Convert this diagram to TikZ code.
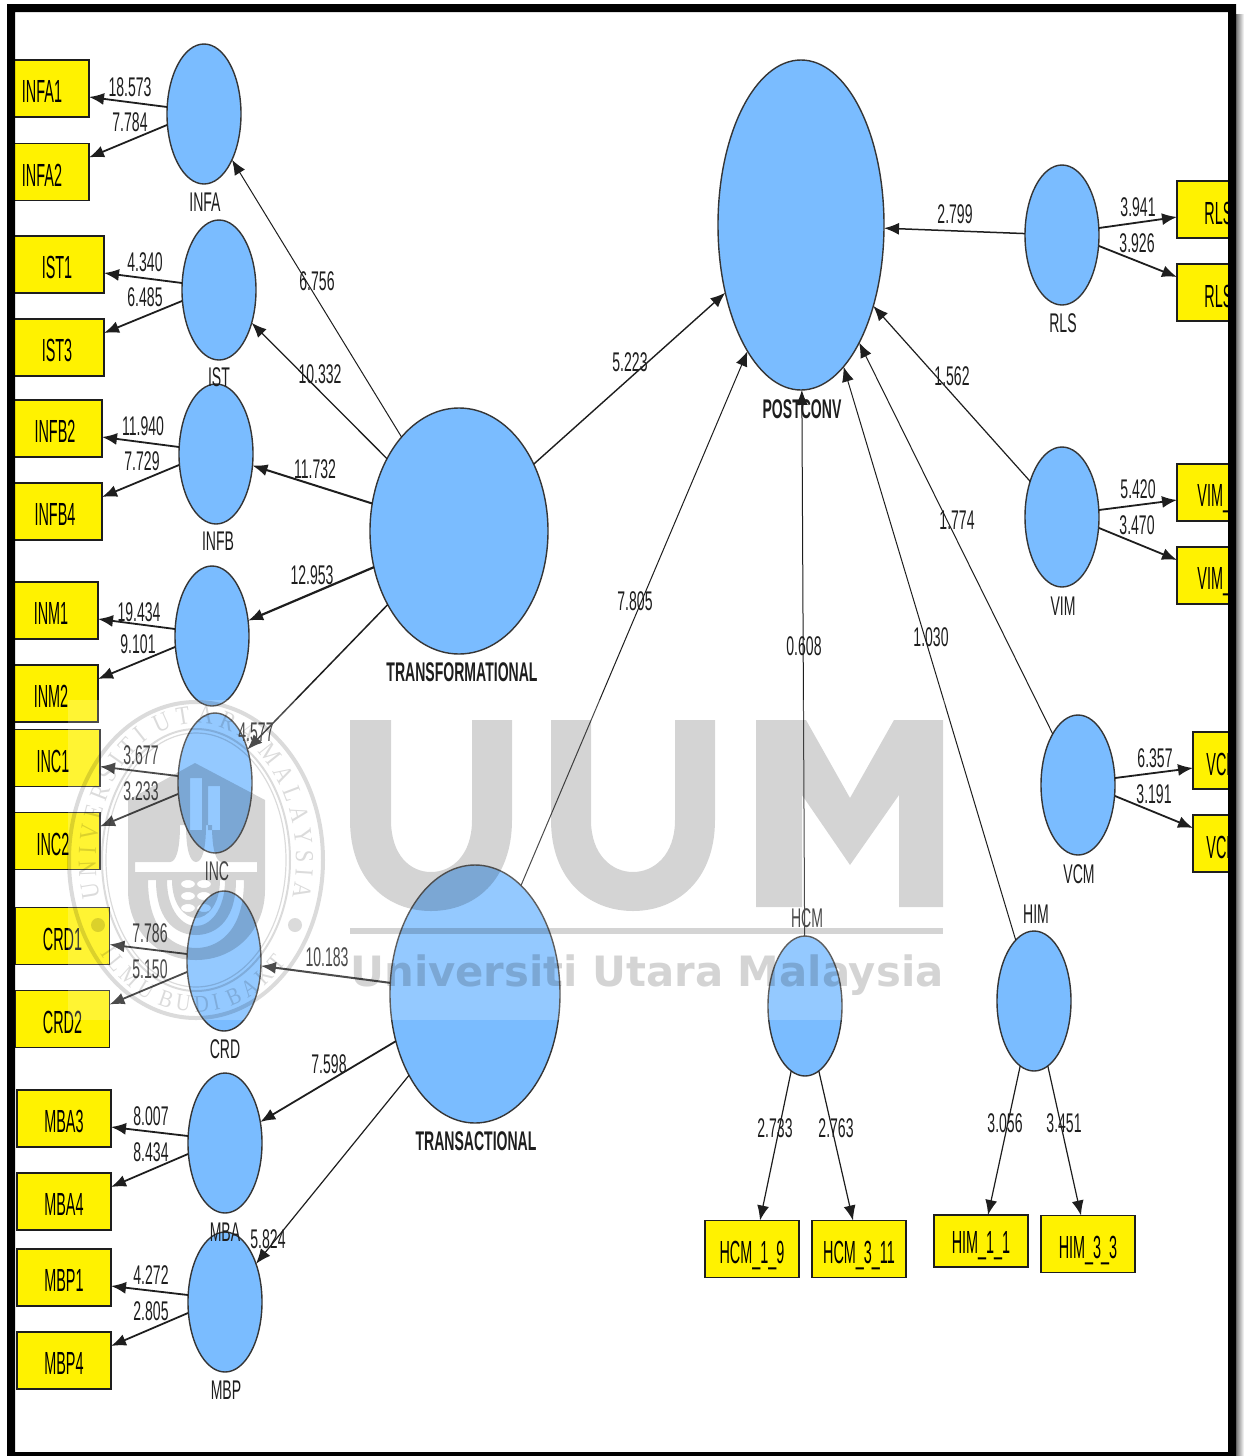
\documentclass[tikz,border=0pt]{standalone}
\usepackage{fontspec}
\usetikzlibrary{arrows.meta,shapes.geometric,decorations.text}
\setmainfont{Liberation Sans}
\newfontfamily\lab[FakeStretch=0.52]{Liberation Sans}
\newfontfamily\boxfont[FakeStretch=0.45]{Liberation Sans}
\newfontfamily\sealfont[FakeStretch=0.85]{Liberation Serif}
\newfontfamily\wmfont{DejaVu Sans}
\definecolor{lvblue}{HTML}{7ABCFF}
\definecolor{inkc}{HTML}{1E1E1E}
\tikzset{
  lv/.style={ellipse,draw=inkc!90,line width=.7pt,fill=lvblue,inner sep=0pt,outer sep=0pt,minimum width=#1},
  lv/.default=37pt,
  small lv/.style={lv,minimum width=37pt,minimum height=70pt},
  ind/.style={rectangle,draw=inkc,line width=.8pt,fill=yellow,inner sep=0pt,outer sep=0pt,
     minimum width=47pt,minimum height=28.5pt,text height=14.2pt,text depth=0pt,font=\boxfont\fontsize{16}{16}\selectfont},
  endtext/.style={inner sep=0pt,anchor=west,text height=11.5pt,text depth=0pt,font=\boxfont\fontsize{16}{16}\selectfont},
  nm/.style={inner sep=0pt,font=\lab\fontsize{13.5}{13.5}\selectfont,text=inkc},
  bnm/.style={inner sep=0pt,font=\lab\bfseries\fontsize{13.5}{13.5}\selectfont,text=inkc},
  pth/.style={inner sep=0pt,font=\lab\fontsize{13.5}{13.5}\selectfont,text=inkc},
  arr/.style={-{Latex[length=7.5pt,width=6pt]},draw=inkc,line width=#1},
  arr/.default=.9pt
}
\newcommand{\indicL}[3]{%
  \draw[arr] ([yshift=3.5pt]#1.west) -- ([yshift=-4.25pt]#2.east);
  \draw[arr] ([yshift=-5.5pt]#1.west) -- ([yshift=7.25pt]#3.east);}
\newcommand{\indicR}[3]{%
  \draw[arr] ([yshift=3.5pt]#1.east) -- ([yshift=-3.75pt]#2.west);
  \draw[arr] ([yshift=-5.5pt]#1.east) -- ([yshift=7.75pt]#3.west);}
\begin{document}
\begin{tikzpicture}[x=.5pt,y=-.5pt]
\useasboundingbox (0,0) rectangle (1244,1456);
\fill[white] (0,0) rectangle (1244,1456);
% shadow of the frame
\shade[left color=black!55,right color=white] (1236,14) rectangle (1244,1456);

\begin{scope}
\clip (15,12) rectangle (1228,1452);
% indicators, left
\foreach \n/\x/\y/\t in {
 INFAa/42/88.5/INFA1, INFAb/42/172/INFA2,
 ISTa/57/264.5/IST1, ISTb/57/347.5/IST3,
 INFBa/55/428.5/INFB2, INFBb/55/511.5/INFB4,
 INMa/51/610.5/INM1, INMb/51/693.5/INM2,
 INCa/53/758/INC1, INCb/53/841/INC2,
 CRDa/62.5/936/CRD1, CRDb/62.5/1019/CRD2,
 MBAa/64/1118.5/MBA3, MBAb/64/1201.5/MBA4,
 MBPa/64/1277.5/MBP1, MBPb/64/1360.5/MBP4}
 { \node[ind] (\n) at (\x,\y) {\t}; }
% indicators, right (cut by the frame)
\foreach \n/\x/\y in {RLSa/1224/209.5, RLSb/1224/292.5, VIMa/1224/492.5, VIMb/1224/575.5, VCMa/1240/760.5, VCMb/1240/843.5}
 { \node[ind] (\n) at (\x,\y) {}; }
\node[endtext] (RLSat) at (1204,212.5) {RLS};
\node[endtext] (RLSbt) at (1204,295.5) {RLS};
\node[endtext] (VIMat) at (1197,495) {VIM\_};
\node[endtext] (VIMbt) at (1197,578) {VIM\_};
\node[endtext] (VCMat) at (1206,764) {VCM};
\node[endtext] (VCMbt) at (1206,847) {VCM};
% indicators, bottom
\node[ind] (HCMa) at (752,1249) {HCM\_1\_9};
\node[ind] (HCMb) at (859,1249) {HCM\_3\_11};
\node[ind,minimum height=26pt,text height=12pt] (HIMa) at (981,1241) {HIM\_1\_1};
\node[ind] (HIMb) at (1088,1244) {HIM\_3\_3};
% latent variables
\foreach \n/\x/\y in {INFA/204/114, IST/219/290, INFB/216/454, INM/212/636, INC/215/783, CRD/224/961, MBA/225/1143, MBP/225/1302,
  RLS/1062/235, VIM/1062/517, VCM/1078/785, HCM/805/1006, HIM/1034/1001}
 { \node[small lv] (\n) at (\x,\y) {}; }
\node[lv,minimum width=89pt,minimum height=123pt] (TF) at (459,531) {};
\node[lv,minimum width=85pt,minimum height=129pt] (TS) at (475,994) {};
\node[lv,minimum width=83pt,minimum height=165pt] (PC) at (801,225) {};
% connectors
\indicL{INFA}{INFAa}{INFAb}
\indicL{IST}{ISTa}{ISTb}
\indicL{INFB}{INFBa}{INFBb}
\indicL{INM}{INMa}{INMb}
\indicL{INC}{INCa}{INCb}
\indicL{CRD}{CRDa}{CRDb}
\indicL{MBA}{MBAa}{MBAb}
\indicL{MBP}{MBPa}{MBPb}
\indicR{RLS}{RLSa}{RLSb}
\indicR{VIM}{VIMa}{VIMb}
\indicR{VCM}{VCMa}{VCMb}
\draw[arr=.6pt] (HCM.-102) -- ([xshift=4pt]HCMa.north);
\draw[arr=.6pt] (HCM.-78) -- ([xshift=-3pt]HCMb.north);
\draw[arr=.6pt] (HIM.-102) -- ([xshift=3.5pt]HIMa.north);
\draw[arr=.6pt] (HIM.-78) -- ([xshift=-3.5pt]HIMb.north);
\draw[arr=.5pt] (TF) -- (INFA);
\draw[arr=.65pt] (TF) -- (IST);
\draw[arr=1pt] (TF) -- (INFB);
\draw[arr=1.1pt] (TF) -- (INM);
\draw[arr=.75pt] (TF) -- (INC);
\draw[arr=1pt] (TS) -- (CRD);
\draw[arr=.9pt] (TS) -- (MBA);
\draw[arr=.6pt] (TS) -- (MBP);
\draw[arr=.7pt] (TF) -- (PC);
\draw[arr=.5pt] (TS) -- (PC);
\draw[arr=.75pt] (RLS) -- (PC);
\draw[arr=.6pt] (VIM) -- (PC);
\draw[arr=.5pt] (VCM) -- (PC);
\draw[arr=.5pt] (HCM) -- (PC);
\draw[arr=.5pt] (HIM) -- (PC);
% names of the latent variables
\foreach \n/\x/\y/\t in {INFA/205/202/INFA, IST/219/377/IST, INFB/218/541/INFB, INC/217/871/INC, CRD/225/1049/CRD, MBA/225/1232/MBA, MBP/226/1390/MBP,
  RLS/1063/323/RLS, VIM/1063/606/VIM, VCM/1079/874/VCM, HCM/807/918/HCM, HIM/1036/914/HIM}
 { \node[nm] (t\n) at (\x,\y) {\t}; }
\node[bnm] (tTF) at (462,672) {TRANSFORMATIONAL};
\node[bnm] (tTS) at (476,1141) {TRANSACTIONAL};
\node[bnm] (tPC) at (802,409) {POSTCONV};
% path values
\foreach \n/\x/\y/\t in {
 a/130/87/18.573, b/130/122/7.784, c/145/262/4.340, d/145/297/6.485, e/143/426/11.940, f/142/461/7.729,
 g/139/612/19.434, h/138/644/9.101, i/141/755/3.677, j/141/791/3.233, k/150/933/7.786, l/150/969/5.150,
 m/151/1116/8.007, n/151/1152/8.434, o/151/1275/4.272, p/151/1311/2.805,
 q/317/281/6.756, r/320/374/10.332, s/315/469/11.732, u/312/575/12.953, v/256/732/4.577,
 w/327/957/10.183, x/329/1064/7.598, y/268/1239/5.824, z/630/362/5.223,
 aa/635/601/7.805, ab/804/646/0.608, ac/931/637/1.030, ad/957/520/1.774, ae/952/376/1.562, af/955/214/2.799,
 ag/1138/207/3.941, ah/1137/243/3.926, ai/1138/489/5.420, aj/1137/525/3.470, ak/1155/758/6.357, al/1154/794/3.191,
 am/775/1128/2.733, an/836/1128/2.763, ao/1005/1123/3.056, ap/1064/1123/3.451}
 { \node[pth] (p\n) at (\x,\y) {\t}; }
\end{scope}

% watermark
\fill[white,opacity=.2] (68,700) rectangle (945,1020);
\begin{scope}[opacity=.17]
 % letters U U M
 \fill (350,720)--(391,720)--(391,820)..controls (391,855) and (410,872)..(431,872)..controls (452,872) and (472,855)..(472,820)--(472,720)--(512,720)--(512,820)..controls (512,880) and (475,911)..(431,911)..controls (387,911) and (350,880)..(350,820)--cycle;
 \fill (551,720)--(591,720)--(591,820)..controls (591,855) and (612,872)..(633,872)..controls (654,872) and (675,855)..(675,820)--(675,720)--(715,720)--(715,820)..controls (715,880) and (677,911)..(633,911)..controls (589,911) and (551,880)..(551,820)--cycle;
 \fill (756,720)--(806,720)--(850,798)--(894,720)--(943,720)--(943,907)--(899,907)--(899,795)--(850,865)--(802,795)--(802,907)--(756,907)--cycle;
 \fill (350,928) rectangle (943,934);
 \node[inner sep=0pt,anchor=base west] (wmtext) at (350,986) {\resizebox{296.5pt}{!}{\wmfont\bfseries Universiti Utara Malaysia}};
 % shield with its cut-outs
 \fill[even odd rule]
   (128,800)--(195,763)--(265,800)--(265,890)..controls (265,930) and (235,960)..(196,960)..controls (157,960) and (128,930)..(128,890)--cycle
   (190,778) rectangle (202,830)
   (208,786) rectangle (220,830)
   (135,862)--(170,862)..controls (176,862) and (180,850)..(180,825)--(186,825)..controls (186,850) and (190,862)..(196,862)..controls (202,862) and (206,850)..(206,825)--(212,825)..controls (212,850) and (216,862)..(222,862)--(257,862)--(257,872)--(135,872)--cycle
   (148,880)--(156,880)..controls (156,925) and (180,935)..(196,935)..controls (212,935) and (236,925)..(236,880)--(244,880)..controls (244,935) and (215,948)..(196,948)..controls (177,948) and (148,935)..(148,880)--cycle
   (167,880)--(172,880)..controls (172,905) and (185,918)..(196,918)..controls (207,918) and (220,905)..(220,880)--(225,880)..controls (225,910) and (210,926)..(196,926)..controls (182,926) and (167,910)..(167,880)--cycle
   (188,884) ellipse [x radius=3.5pt,y radius=2pt]
   (204,884) ellipse [x radius=3.5pt,y radius=2pt]
   (188,896) ellipse [x radius=3.5pt,y radius=2pt]
   (204,896) ellipse [x radius=3.5pt,y radius=2pt]
   (188,908) ellipse [x radius=3.5pt,y radius=2pt]
   (204,908) ellipse [x radius=3.5pt,y radius=2pt];
\end{scope}
\begin{scope}[opacity=.14]
 \draw[line width=2pt] (196,860) ellipse [x radius=63.5pt,y radius=79pt];
 \draw[line width=1pt] (196,860) ellipse [x radius=47pt,y radius=65.5pt];
 \draw[line width=.6pt] (196,860) ellipse [x radius=45pt,y radius=63.5pt];
 \fill (98,925) circle [radius=3.5pt];
 \fill (295,925) circle [radius=3.5pt];
 \path[decorate,decoration={text along path,text align=center,
   text={|\sealfont\fontsize{13}{13}\selectfont|U N I V E R S I T I{ }{ }U T A R A{ }{ }M A L A Y S I A}}]
   (102,907) arc[start angle=200,end angle=-20,x radius=50pt,y radius=68.5pt];
 \path[decorate,decoration={text along path,text align=center,
   text={|\sealfont\fontsize{12}{12}\selectfont|I L M U{ }{ }B U D I{ }{ }B A K T I}}]
   (110,967.5) arc[start angle=225,end angle=315,x radius=61pt,y radius=76pt];
\end{scope}

% frame
\fill[black,even odd rule] (7,4) rectangle (1236,1456) (15,12) rectangle (1228,1452);
\end{tikzpicture}
\end{document}
